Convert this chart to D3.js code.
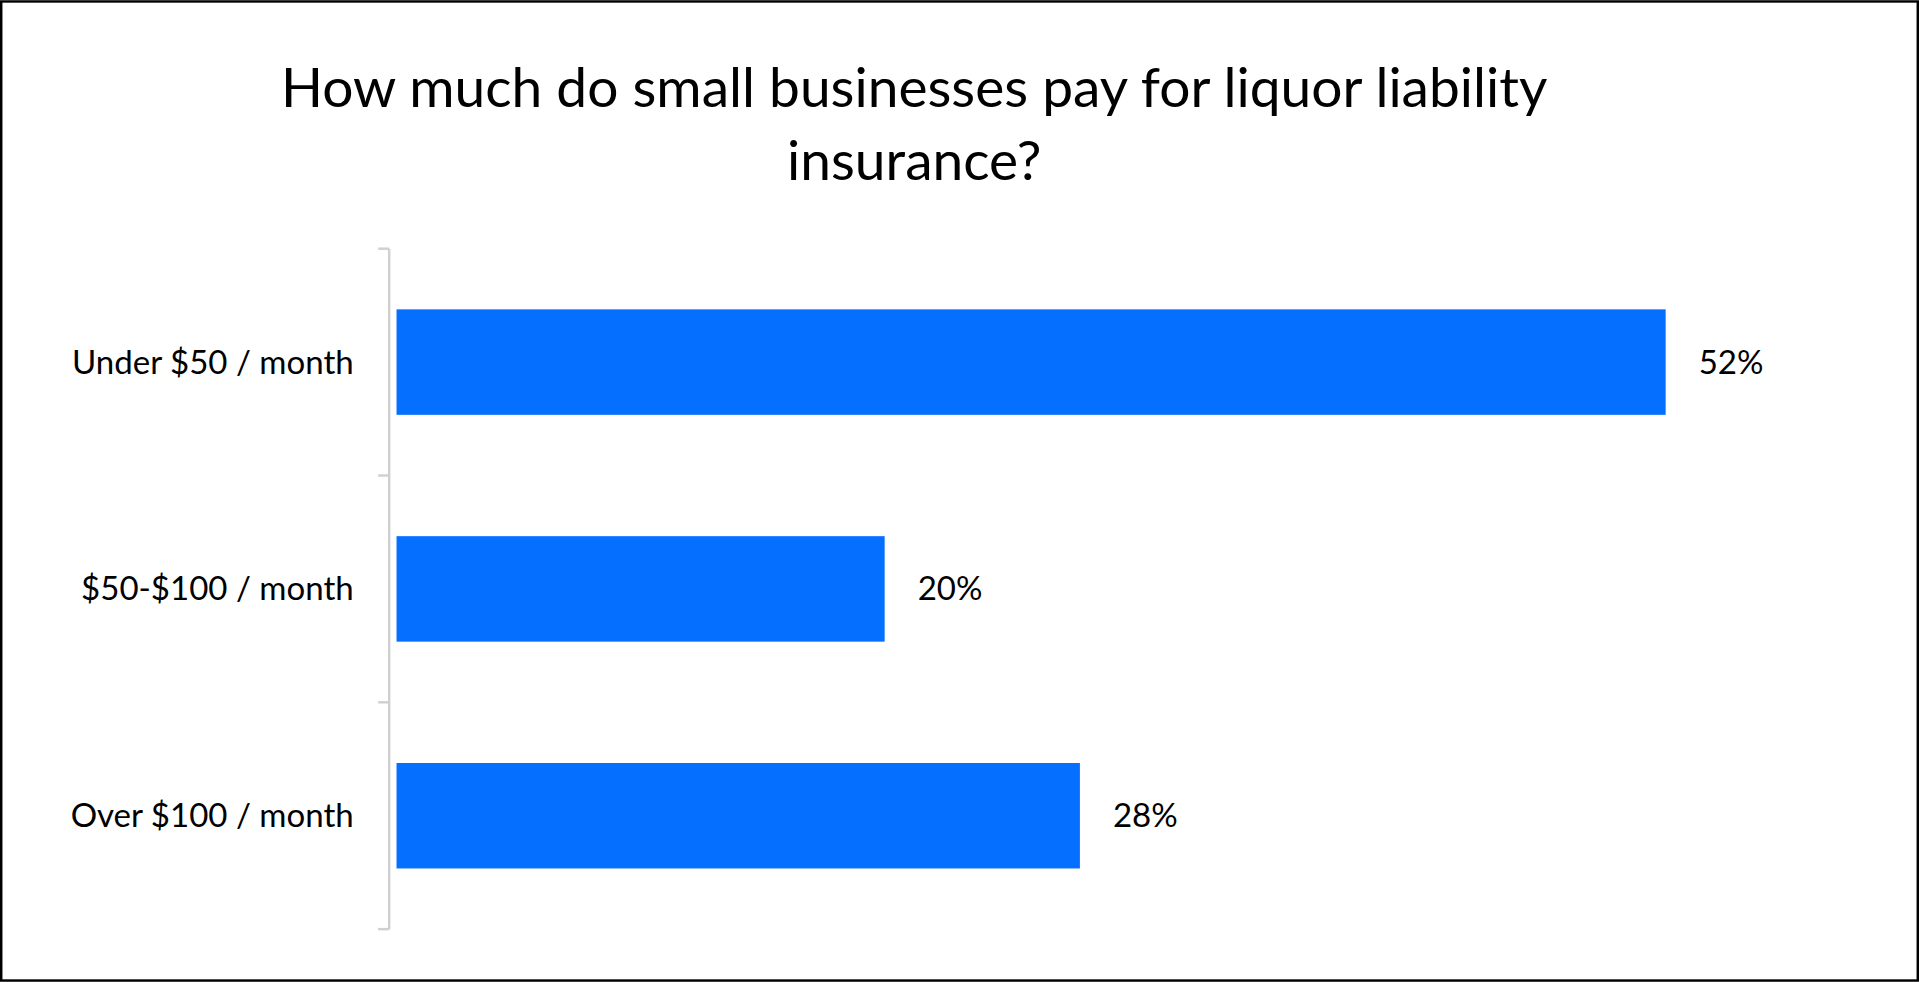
<!DOCTYPE html>
<html>
<head>
<meta charset="utf-8">
<script src="https://cdnjs.cloudflare.com/ajax/libs/d3/7.8.5/d3.min.js"></script>
<style>
  html, body { margin: 0; padding: 0; background: #fff; }
  svg { display: block; }
  text { font-family: Lato, "Open Sans", sans-serif; fill: #000; }
</style>
</head>
<body>
<div id="chart"></div>
<script>
'use strict';

// chart data
var categories = ["Under $50 / month", "$50-$100 / month", "Over $100 / month"];
var values = [52, 20, 28];
var titleLines = ["How much do small businesses pay for liquor liability", "insurance?"];

(function () {
    // drawn in a 1568x802 coordinate space, scaled to the window
    var W = 1568, H = 802;
    var svg = d3.select("#chart").append("svg")
        .attr("width", 1919).attr("height", 982)
        .attr("viewBox", "0 0 " + W + " " + H);

    svg.append("rect")
        .attr("x", 1).attr("y", 1).attr("width", W - 2).attr("height", H - 2)
        .attr("fill", "#fff").attr("stroke", "#000").attr("stroke-width", 2);

    svg.selectAll("text.title").data(titleLines).enter()
        .append("text").attr("class", "title")
        .attr("x", 747).attr("y", function (d, i) { return 87 + i * 60; })
        .attr("text-anchor", "middle")
        .style("font-size", "45px")
        .text(function (d) { return d; });

    var axisX = 318, top = 203, bottom = 759;

    var y = d3.scaleBand().domain(categories).range([top, bottom]).paddingInner(0.535).paddingOuter(0.2675);
    var x = d3.scaleLinear().domain([0, 52]).range([axisX + 6, 1361]);

    // axis line and ticks
    svg.append("line")
        .attr("x1", axisX).attr("x2", axisX).attr("y1", top).attr("y2", bottom)
        .attr("stroke", "#d0d0d0").attr("stroke-width", 2);
    var step = (bottom - top) / categories.length;
    svg.selectAll("line.tick").data(d3.range(categories.length + 1)).enter()
        .append("line").attr("class", "tick")
        .attr("x1", axisX - 9).attr("x2", axisX)
        .attr("y1", function (d) { return top + d * step; })
        .attr("y2", function (d) { return top + d * step; })
        .attr("stroke", "#d0d0d0").attr("stroke-width", 2);

    svg.selectAll("rect.bar").data(values).enter()
        .append("rect").attr("class", "bar")
        .attr("x", x(0))
        .attr("y", function (d, i) { return y(categories[i]); })
        .attr("width", function (d) { return x(d) - x(0); })
        .attr("height", y.bandwidth())
        .attr("fill", "#0570FF");

    svg.selectAll("text.cat").data(categories).enter()
        .append("text").attr("class", "cat")
        .attr("x", 289).attr("y", function (d) { return y(d) + y.bandwidth() / 2; })
        .attr("dy", "0.35em").attr("text-anchor", "end")
        .style("font-size", "27px")
        .text(function (d) { return d; });

    svg.selectAll("text.val").data(values).enter()
        .append("text").attr("class", "val")
        .attr("x", function (d) { return x(d) + 27; })
        .attr("y", function (d, i) { return y(categories[i]) + y.bandwidth() / 2; })
        .attr("dy", "0.35em")
        .style("font-size", "27px")
        .text(function (d) { return d + "%"; });
})();
</script>
</body>
</html>
